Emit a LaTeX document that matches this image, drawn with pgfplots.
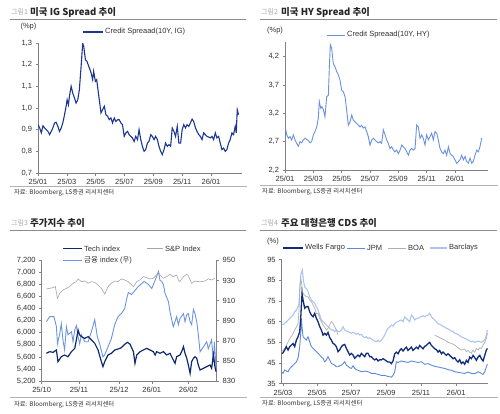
\documentclass[border=0pt]{standalone}
\usepackage{fontspec}
\setmainfont{Liberation Sans}
\newfontfamily\cjk{Noto Sans CJK KR}
\usepackage{pgfplots}
\pgfplotsset{compat=1.18}
\definecolor{axisgray}{RGB}{130,130,130}
\definecolor{rulegray}{RGB}{140,140,140}
\definecolor{txt}{RGB}{50,50,50}
\definecolor{ignavy}{RGB}{28,55,145}
\definecolor{hyblue}{RGB}{105,145,222}
\definecolor{technavy}{RGB}{15,40,110}
\definecolor{spgray}{RGB}{165,165,165}
\definecolor{finblue}{RGB}{108,148,225}
\definecolor{wfnavy}{RGB}{18,45,120}
\definecolor{jpmblue}{RGB}{92,137,217}
\definecolor{boagray}{RGB}{175,175,175}
\definecolor{barcblue}{RGB}{172,197,240}
\pgfplotsset{panel/.style={scale only axis, anchor=south west, enlargelimits=false,
  axis x line*=bottom, axis y line*=left,
  axis line style={draw=axisgray, line width=0.6pt},
  tick style={draw=axisgray, line width=0.5pt}, tick align=outside, major tick length=2.5pt,
  ticklabel style={font=\fontsize{7.5}{8.5}\selectfont, text=txt},
  /pgf/number format/assume math mode=true}}
\begin{document}
\begin{tikzpicture}[x=1pt,y=1pt]
\path[use as bounding box] (0,0) rectangle (500,413);
% ---------- titles and rules
\begin{scope}[every node/.style={inner sep=0pt}]
\node[anchor=west, text=gray!70] at (11,401) {\cjk\fontsize{7}{8}\selectfont 그림1};
\node[anchor=west, text=black!85] at (30,401) {\cjk\bfseries\fontsize{9.5}{10}\selectfont 미국 IG Spread 추이};
\node[anchor=west, text=gray!70] at (261,401) {\cjk\fontsize{7}{8}\selectfont 그림2};
\node[anchor=west, text=black!85] at (281,401) {\cjk\bfseries\fontsize{9.5}{10}\selectfont 미국 HY Spread 추이};
\node[anchor=west, text=gray!70] at (11,190) {\cjk\fontsize{7}{8}\selectfont 그림3};
\node[anchor=west, text=black!85] at (30,190) {\cjk\bfseries\fontsize{9.5}{10}\selectfont 주가지수 추이};
\node[anchor=west, text=gray!70] at (261,190) {\cjk\fontsize{7}{8}\selectfont 그림4};
\node[anchor=west, text=black!85] at (281,190) {\cjk\bfseries\fontsize{9.5}{10}\selectfont 주요 대형은행 CDS 추이};
\node[anchor=west, text=txt] at (14,220.7) {\cjk\fontsize{6.3}{7}\selectfont 자료: Bloomberg, LS증권 리서치센터};
\node[anchor=west, text=txt] at (262,221) {\cjk\fontsize{6.3}{7}\selectfont 자료: Bloomberg, LS증권 리서치센터};
\node[anchor=west, text=txt] at (14,8.3) {\cjk\fontsize{6.3}{7}\selectfont 자료: Bloomberg, LS증권 리서치센터};
\node[anchor=west, text=txt] at (262,9.3) {\cjk\fontsize{6.3}{7}\selectfont 자료: Bloomberg, LS증권 리서치센터};
\end{scope}
\draw[rulegray, line width=1.2pt] (10,393.7) -- (246,393.7);
\draw[rulegray, line width=1.2pt] (260,393.7) -- (497,393.7);
\draw[rulegray, line width=1.2pt] (10,182.7) -- (246,182.7);
\draw[rulegray, line width=1.2pt] (260,182.7) -- (497,182.7);
\draw[gray!60, line width=0.5pt] (10,226.5) -- (247,226.5);
\draw[gray!60, line width=0.5pt] (260,227.5) -- (498,227.5);
\draw[gray!60, line width=0.5pt] (10,15.3) -- (247,15.3);
\draw[gray!60, line width=0.5pt] (260,15.3) -- (498,15.3);

% ---------- Panel 1: IG
\begin{axis}[panel, at={(38pt,240pt)}, width=204pt, height=130pt,
  xmin=0, xmax=14.15, ymin=0.7, ymax=1.3,
  xtick={0,2,4,6,8,10,12}, xticklabels={25/01,25/03,25/05,25/07,25/09,25/11,26/01},
  ytick={0.7,0.8,0.9,1.0,1.1,1.2,1.3},
  yticklabel style={/pgf/number format/.cd, use comma, fixed, fixed zerofill, precision=1}]
\addplot[ignavy, line width=1.1pt] coordinates {
(0,0.923) (0.115,0.908) (0.23,0.885) (0.345,0.918) (0.46,0.908) (0.575,0.9) (0.69,0.892) (0.805,0.877) (0.92,0.892) (1.03,0.908) (1.15,0.931) (1.26,0.934) (1.38,0.915) (1.49,0.892) (1.61,0.908) (1.72,0.931) (1.84,0.969) (1.95,1.008) (2.02,1.038) (2.11,1.015) (2.18,1.054) (2.30,1.1) (2.41,1.069) (2.53,1.046) (2.64,1.023) (2.76,1.038) (2.87,1.085) (2.99,1.192) (3.10,1.298) (3.17,1.285) (3.29,1.223) (3.40,1.215) (3.52,1.192) (3.61,1.177) (3.68,1.162) (3.79,1.131) (3.86,1.169) (3.98,1.123) (4.07,1.131) (4.16,1.085) (4.25,1.038) (4.37,0.977) (4.48,0.992) (4.60,1.008) (4.71,0.969) (4.83,0.962) (4.94,0.946) (5.06,0.954) (5.17,0.931) (5.29,0.954) (5.40,0.938) (5.52,0.946) (5.63,0.946) (5.75,0.931) (5.86,0.923) (5.98,0.869) (6.09,0.885) (6.21,0.892) (6.32,0.877) (6.44,0.869) (6.55,0.862) (6.67,0.846) (6.78,0.869) (6.90,0.854) (7.01,0.9) (7.13,0.854) (7.24,0.823) (7.36,0.8) (7.47,0.808) (7.59,0.838) (7.70,0.846) (7.82,0.877) (7.93,0.869) (8.05,0.854) (8.16,0.869) (8.28,0.854) (8.39,0.823) (8.51,0.8) (8.62,0.785) (8.74,0.808) (8.85,0.838) (8.97,0.823) (9.08,0.831) (9.20,0.823) (9.31,0.908) (9.43,0.892) (9.54,0.869) (9.66,0.915) (9.77,0.838) (9.89,0.838) (10.0,0.9) (10.11,0.923) (10.23,0.908) (10.34,0.923) (10.46,0.915) (10.57,0.931) (10.69,0.949) (10.80,0.938) (10.92,0.908) (11.03,0.892) (11.15,0.877) (11.26,0.869) (11.38,0.854) (11.49,0.885) (11.61,0.877) (11.72,0.869) (11.84,0.866) (11.95,0.862) (12.07,0.869) (12.18,0.854) (12.30,0.885) (12.41,0.862) (12.53,0.869) (12.64,0.838) (12.76,0.808) (12.87,0.815) (12.99,0.8) (13.10,0.808) (13.22,0.838) (13.33,0.854) (13.45,0.885) (13.56,0.877) (13.68,0.915) (13.75,0.885) (13.82,0.992) (13.91,0.969)};
\end{axis}

% ---------- Panel 2: HY
\begin{axis}[panel, at={(285pt,243pt)}, width=202.6pt, height=127.5pt,
  xmin=0, xmax=14.3, ymin=2.2, ymax=4.45,
  xtick={0,2,4,6,8,10,12}, xticklabels={25/01,25/03,25/05,25/07,25/09,25/11,26/01},
  ytick={2.2,2.7,3.2,3.7,4.2},
  yticklabel style={/pgf/number format/.cd, use comma, fixed, fixed zerofill, precision=1}]
\addplot[hyblue, line width=0.9pt] coordinates {
(0.05,2.92) (0.12,2.82) (0.24,2.76) (0.35,2.79) (0.47,2.73) (0.59,2.82) (0.71,2.73) (0.82,2.67) (0.94,2.62) (1.06,2.70) (1.18,2.68) (1.29,2.73) (1.41,2.76) (1.53,2.74) (1.65,2.72) (1.76,2.68) (1.88,2.70) (2.00,2.82) (2.12,2.88) (2.24,2.96) (2.35,3.11) (2.42,3.41) (2.52,3.29) (2.61,3.32) (2.71,3.26) (2.82,3.14) (2.94,3.49) (3.06,3.52) (3.13,4.02) (3.20,4.41) (3.29,4.35) (3.41,4.08) (3.53,4.02) (3.65,3.94) (3.76,3.88) (3.88,3.79) (4.00,3.61) (4.12,3.58) (4.24,3.49) (4.35,3.26) (4.47,2.99) (4.59,3.05) (4.71,3.17) (4.82,3.08) (4.94,3.05) (5.06,3.02) (5.18,2.99) (5.29,2.96) (5.41,2.99) (5.53,2.94) (5.65,2.96) (5.76,2.88) (5.88,2.79) (6.00,2.64) (6.12,2.73) (6.24,2.76) (6.35,2.73) (6.47,2.70) (6.59,2.68) (6.71,2.70) (6.82,2.67) (6.94,2.91) (7.06,2.82) (7.18,2.73) (7.29,2.67) (7.41,2.58) (7.53,2.61) (7.65,2.55) (7.76,2.52) (7.88,2.55) (8.00,2.49) (8.12,2.55) (8.24,2.64) (8.35,2.61) (8.47,2.58) (8.59,2.52) (8.71,2.46) (8.82,2.55) (8.94,2.58) (9.06,2.55) (9.18,2.58) (9.29,2.99) (9.41,2.96) (9.53,2.76) (9.65,2.82) (9.76,2.76) (9.88,2.64) (10.00,2.82) (10.12,2.73) (10.24,2.79) (10.35,2.85) (10.47,2.73) (10.59,2.88) (10.71,2.85) (10.82,2.73) (10.94,2.58) (11.06,2.52) (11.18,2.49) (11.29,2.55) (11.41,2.46) (11.53,2.61) (11.65,2.49) (11.76,2.46) (11.88,2.44) (12.00,2.38) (12.12,2.32) (12.24,2.35) (12.35,2.38) (12.47,2.46) (12.59,2.38) (12.71,2.44) (12.82,2.35) (12.94,2.32) (13.06,2.41) (13.18,2.32) (13.29,2.35) (13.41,2.46) (13.53,2.55) (13.65,2.52) (13.76,2.61) (13.88,2.76)};
\end{axis}

% ---------- Panel 3: stock indices (right axis first, drawn below)
\begin{axis}[panel, at={(41.7pt,32pt)}, width=175pt, height=120.7pt,
  axis x line=none, axis y line*=right,
  xmin=0, xmax=100, ymin=830, ymax=950, ytick={830,850,870,890,910,930,950}]
\addplot[finblue, line width=0.9pt] coordinates {
(2.7,889) (4.6,894) (7.0,894) (8.4,884) (9.0,867) (10.3,877) (11.2,887) (12.2,870) (13.1,861) (14.1,884) (15.0,876) (17.0,879) (17.9,869) (18.9,881) (19.8,885) (20.8,874) (21.7,867) (22.7,876) (24.6,869) (26.5,869) (28.4,879) (30.3,891) (31.8,874) (33.1,867) (35.0,854) (36.0,856) (37.9,864) (39.8,872) (41.7,886) (43.6,894) (45.5,897) (47.4,902) (48.6,912) (49.5,918) (51.4,916) (55.2,924) (58.5,929) (61.0,926) (62.9,922) (64.8,930) (66.7,939) (67.6,930) (68.6,929) (69.5,926) (70.5,917) (72.4,909) (73.3,899) (74.3,891) (75.2,884) (76.2,889) (77.1,894) (78.1,886) (79.0,892) (81.0,897) (81.9,889) (82.9,896) (83.8,897) (84.8,889) (85.7,886) (86.7,901) (87.6,897) (88.6,889) (89.5,876) (90.5,859) (92.4,864) (94.3,869) (95.2,862) (97.1,871) (98.1,849) (98.7,869) (99.6,843)};
\end{axis}
\begin{axis}[panel, at={(41.7pt,32pt)}, width=175pt, height=120.7pt,
  xmin=0, xmax=100, ymin=5200, ymax=7200,
  xtick={0,21.3,44.2,62.9,83.8}, xticklabels={25/10,25/11,25/12,26/01,26/02},
  ytick={5200,5400,5600,5800,6000,6200,6400,6600,6800,7000,7200}]
\addplot[spgray, line width=0.6pt] coordinates {
(2.7,6725) (4.6,6736) (6.5,6747) (7.8,6764) (9.0,6570) (10.3,6653) (12.2,6708) (14.1,6736) (16.0,6764) (17.9,6819) (19.8,6846) (20.8,6891) (22.7,6846) (24.6,6857) (26.5,6819) (28.4,6846) (30.3,6835) (32.2,6791) (34.1,6736) (36.0,6640) (37.9,6764) (39.8,6819) (41.7,6857) (43.6,6846) (45.5,6891) (47.4,6874) (49.5,6846) (51.4,6791) (52.4,6764) (54.3,6846) (56.2,6874) (58.1,6929) (60.0,6913) (61.9,6891) (63.8,6902) (65.7,6957) (66.7,7001) (67.6,6957) (69.5,6902) (71.4,6929) (73.3,6968) (75.2,6929) (77.1,6957) (78.1,6874) (79.0,6846) (81.0,6929) (82.9,6968) (83.8,6946) (85.7,6819) (87.6,6857) (89.5,6846) (91.4,6846) (93.3,6857) (95.2,6891) (97.1,6874) (99.0,6902)};
\addplot[technavy, line width=1.2pt] coordinates {
(2.7,5659) (4.6,5686) (6.5,5675) (8.4,5714) (9.3,5520) (11.2,5603) (13.1,5631) (15.0,5603) (17.0,5686) (18.9,5741) (19.8,5880) (20.8,6045) (21.7,5962) (22.7,5935) (24.6,5907) (26.5,5935) (28.4,5880) (30.3,5824) (32.2,5714) (34.1,5520) (35.0,5438) (36.0,5520) (37.9,5631) (39.8,5659) (41.7,5714) (43.6,5730) (45.5,5752) (47.4,5808) (49.0,5841) (50.5,5808) (52.4,5686) (53.3,5493) (54.3,5631) (56.2,5686) (58.1,5714) (60.0,5741) (61.9,5714) (63.8,5686) (64.8,5631) (65.7,5686) (67.6,5659) (69.5,5686) (71.4,5631) (73.3,5659) (75.2,5548) (76.2,5493) (77.1,5603) (79.0,5631) (80.0,5686) (81.0,5769) (81.9,5659) (82.9,5576) (83.8,5465) (84.8,5327) (85.7,5520) (86.7,5576) (87.6,5603) (88.6,5576) (89.5,5465) (90.5,5382) (92.4,5410) (94.3,5438) (96.2,5465) (97.1,5410) (98.1,5631) (99.0,5438) (99.6,5355)};
\end{axis}

% ---------- Panel 4: CDS
\begin{axis}[panel, at={(281.7pt,29.3pt)}, width=206.7pt, height=124pt,
  xmin=95, xmax=715, ymin=35, ymax=95,
  xtick={99,201,303,408,513,618}, xticklabels={25/03,25/05,25/07,25/09,25/11,26/01},
  ytick={35,45,55,65,75,85,95}]
\addplot[barcblue, line width=1.1pt] coordinates {
(97,63.4) (104,64.2) (109,65.0) (114,65.8) (119,66.6) (124,67.4) (129,68.2) (134,69.8) (139,70.6) (144,72.1) (147,73.7) (150,83.4) (153,88.2) (157,90.0) (160,85.0) (164,81.9) (169,81.1) (174,79.5) (179,77.1) (184,75.5) (189,74.7) (194,73.9) (199,72.3) (204,70.6) (209,68.2) (214,65.8) (219,65.0) (224,64.2) (229,63.4) (234,62.6) (239,61.8) (244,61.0) (249,61.0) (254,60.2) (259,61.0) (264,60.2) (269,60.2) (274,61.0) (279,62.6) (284,61.0) (289,60.5) (294,60.2) (299,59.8) (304,59.4) (309,59.8) (314,59.4) (319,58.9) (324,59.4) (329,58.5) (334,58.9) (339,57.7) (344,57.3) (349,57.7) (354,56.9) (359,57.3) (364,56.6) (369,56.1) (374,55.6) (379,55.3) (384,56.1) (389,55.3) (394,56.0) (399,57.3) (404,58.5) (409,60.5) (414,61.8) (419,62.4) (424,63.4) (429,62.9) (434,64.0) (439,64.7) (444,65.0) (449,65.6) (454,65.8) (459,65.0) (464,67.3) (469,66.6) (474,65.8) (479,65.0) (484,68.2) (489,67.4) (494,65.8) (499,66.6) (504,66.6) (509,67.3) (514,67.4) (519,67.9) (524,67.4) (529,67.9) (534,68.2) (539,69.0) (544,67.4) (549,66.6) (554,65.8) (559,65.0) (564,64.0) (569,63.7) (574,63.4) (579,62.6) (584,62.4) (589,61.8) (594,61.5) (599,61.0) (604,60.5) (609,60.2) (614,59.5) (619,59.2) (624,58.9) (629,58.2) (634,57.7) (639,57.3) (644,56.9) (649,56.6) (654,56.1) (659,55.6) (664,55.3) (669,55.6) (674,55.0) (679,55.3) (684,55.6) (689,55.3) (694,55.0) (699,55.6) (704,56.1) (709,58.5) (712,61.0)};
\addplot[boagray, line width=0.7pt] coordinates {
(97,50.8) (104,51.9) (109,53.5) (114,55.2) (119,56.8) (124,57.9) (129,59.2) (134,61.0) (139,62.4) (144,64.0) (147,70.5) (149,79.4) (152,86.0) (155,83.4) (159,78.5) (164,77.9) (169,77.1) (174,77.1) (179,75.5) (184,74.7) (189,73.1) (194,71.5) (199,69.0) (204,69.0) (209,66.6) (214,65.0) (219,63.4) (224,62.4) (229,61.0) (234,61.8) (239,63.4) (244,65.0) (249,64.2) (254,62.6) (259,61.0) (264,58.5)};
\addplot[boagray, line width=0.7pt] coordinates {
(554,58.5) (564,57.7) (574,56.9) (584,56.1) (594,55.0) (604,54.5) (614,53.7) (624,52.4) (634,51.3) (644,51.8) (649,50.5) (654,51.1) (659,50.2) (664,49.7) (669,51.3) (674,50.2) (679,52.1) (684,51.3) (689,52.4) (694,52.1) (699,53.7) (704,55.0) (709,56.9) (712,59.4)};
\addplot[jpmblue, line width=0.9pt] coordinates {
(97,40.6) (99,40.0) (104,41.6) (109,41.1) (114,40.8) (119,42.3) (124,43.2) (129,44.0) (134,44.7) (139,45.6) (144,47.3) (149,52.9) (152,59.2) (154,66.6) (156,62.4) (159,57.7) (164,56.9) (169,56.1) (174,57.7) (179,55.3) (184,52.9) (189,52.1) (194,51.3) (199,50.5) (204,49.7) (209,48.9) (214,47.9) (219,47.3) (224,45.6) (229,46.5) (234,48.1) (239,46.5) (244,44.8) (249,44.4) (254,44.0) (259,43.2) (264,43.2) (269,43.7) (274,44.0) (279,44.7) (284,45.6) (289,44.0) (294,43.4) (299,42.7) (304,42.4) (309,43.7) (314,42.4) (319,41.8) (324,41.5) (334,40.8) (344,41.1) (354,40.8) (364,40.0) (374,40.0) (384,39.5) (394,39.0) (404,39.0) (414,38.5) (424,38.2) (429,39.0) (434,40.8) (439,45.6) (444,45.3) (454,46.0) (464,45.6) (474,45.3) (484,46.0) (494,45.6) (504,45.3) (514,45.6) (524,44.4) (534,44.7) (544,44.0) (554,43.4) (564,43.1) (574,42.7) (584,42.4) (594,41.8) (604,41.5) (614,40.8) (624,40.5) (634,40.2) (644,40.0) (654,40.6) (664,40.0) (674,39.8) (684,40.8) (694,40.0) (699,39.5) (704,40.8) (709,43.2) (712,44.4)};
\addplot[wfnavy, line width=1.3pt] coordinates {
(97,49.5) (104,51.3) (109,52.9) (114,51.3) (119,52.9) (124,53.7) (129,54.5) (134,52.9) (139,56.1) (144,57.7) (149,60.2) (152,66.6) (156,78.7) (159,75.5) (164,71.5) (169,72.3) (174,72.3) (179,69.8) (184,68.2) (189,67.4) (194,69.0) (199,66.6) (204,65.0) (209,62.6) (214,61.0) (219,58.5) (224,59.4) (229,58.5) (234,59.8) (239,57.3) (244,56.1) (249,54.5) (254,54.0) (259,52.9) (264,50.5) (269,51.3) (274,52.9) (279,53.7) (284,54.0) (289,52.1) (294,50.5) (299,48.9) (304,49.7) (309,48.9) (314,47.3) (319,48.1) (324,48.9) (329,48.1) (334,49.7) (339,48.9) (344,48.1) (349,49.7) (354,49.7) (359,48.1) (364,48.1) (369,47.1) (374,46.5) (379,47.1) (384,46.0) (389,46.6) (394,46.5) (399,47.1) (404,46.6) (409,46.0) (414,45.5) (419,45.5) (424,44.7) (429,46.0) (434,49.5) (439,50.3) (444,49.5) (449,51.1) (454,51.9) (459,50.8) (464,51.9) (469,52.7) (474,51.1) (479,51.9) (484,52.7) (489,51.1) (494,51.9) (499,52.7) (504,51.9) (509,53.5) (514,52.7) (519,51.9) (524,53.1) (529,53.5) (534,54.4) (539,55.0) (544,53.5) (549,52.7) (554,51.9) (559,51.5) (564,50.3) (569,51.1) (574,49.5) (579,50.3) (584,49.5) (589,48.7) (594,49.5) (599,48.7) (604,47.9) (609,47.1) (614,47.6) (619,46.3) (624,45.5) (629,46.6) (634,44.7) (639,45.5) (644,44.4) (649,46.3) (654,45.3) (659,47.9) (664,47.1) (669,48.7) (674,47.6) (679,46.3) (684,47.9) (689,48.7) (694,47.1) (699,46.0) (704,48.7) (709,51.3) (712,52.1)};
\end{axis}

% ---------- units and legends
\begin{scope}[every node/.style={inner sep=0pt, text=txt, font=\fontsize{7.5}{8.5}\selectfont}]
\node at (28.5,386.3) {(\%p)};
\node at (275,382.3) {(\%p)};
\node at (273,171) {(\%)};
\draw[ignavy, line width=1.1pt] (83,381) -- (103,381);
\node[anchor=west] at (105,381) {Credit Spreaad(10Y, IG)};
\draw[hyblue, line width=0.9pt] (327,378) -- (345,378);
\node[anchor=west] at (347,378) {Credit Spreaad(10Y, HY)};
\draw[technavy, line width=1.2pt] (63,164.3) -- (82,164.3);
\node[anchor=west] at (84,164.3) {Tech index};
\draw[spgray, line width=0.6pt] (147,164.3) -- (163,164.3);
\node[anchor=west] at (165,164.3) {S\&P Index};
\draw[finblue, line width=0.9pt] (63,152.7) -- (82,152.7);
\node[anchor=west] at (84,152.7) {{\cjk 금융} index ({\cjk 우})};
\draw[wfnavy, line width=1.3pt] (283,165) -- (303,165);
\node[anchor=west] at (305,165) {Wells Fargo};
\draw[jpmblue, line width=0.9pt] (347,165) -- (365,165);
\node[anchor=west] at (367,165) {JPM};
\draw[boagray, line width=0.7pt] (388,165) -- (406,165);
\node[anchor=west] at (408,165) {BOA};
\draw[barcblue, line width=1.1pt] (430,165) -- (447,165);
\node[anchor=west] at (449,165) {Barclays};
\end{scope}
\end{tikzpicture}
\end{document}
